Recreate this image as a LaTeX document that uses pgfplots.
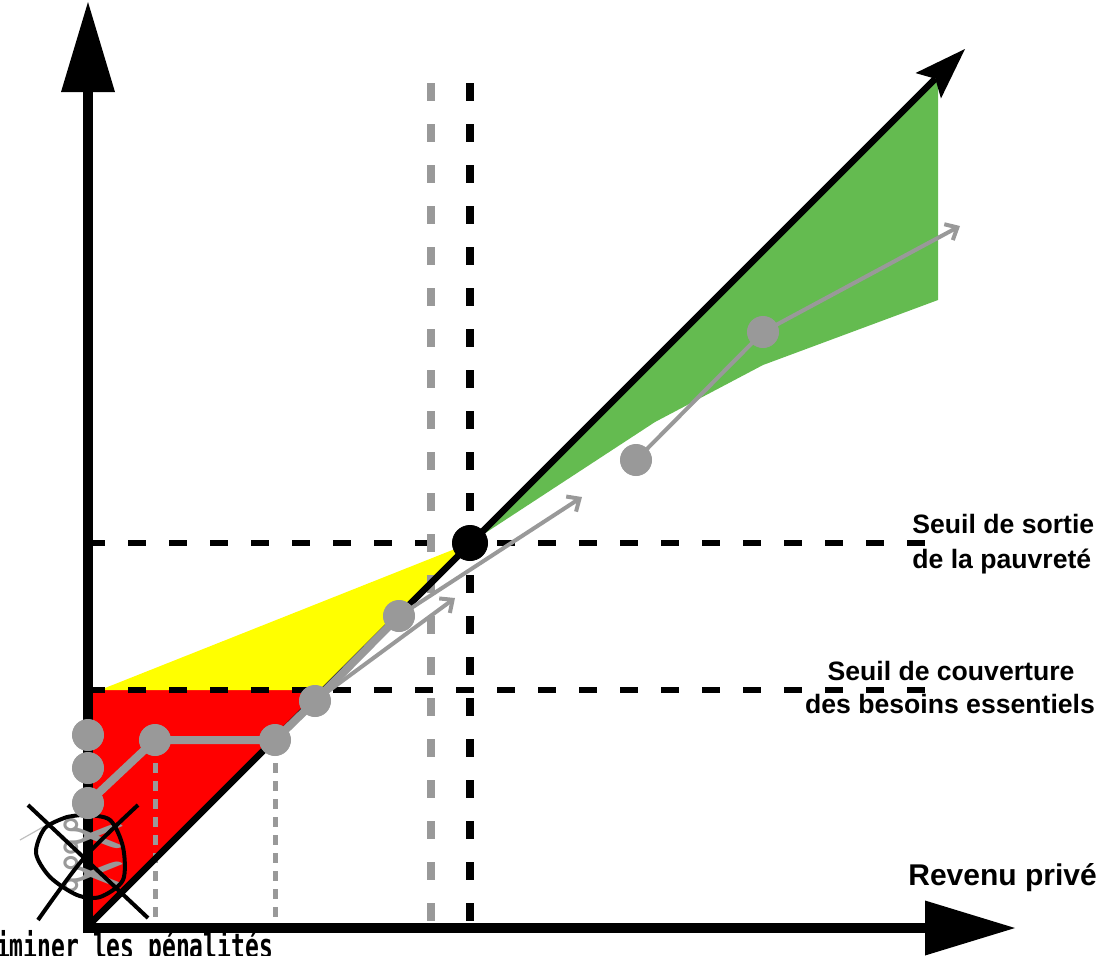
\documentclass[border=0pt]{standalone}
\usepackage{pgfplots}
\pgfplotsset{compat=1.18}
\usepackage{fontspec}
\setmainfont{Liberation Sans}
\newfontfamily\monofont{DejaVu Sans Mono}
\newfontfamily\symfont{DejaVu Sans}
\usetikzlibrary{arrows.meta}
\definecolor{gr}{HTML}{999999}
\definecolor{grn}{HTML}{64BB50}
\definecolor{yel}{HTML}{FFFF00}
\begin{document}
\begin{tikzpicture}
\begin{axis}[
  scale only axis, width=554.5pt, height=477.5pt,
  xmin=0, xmax=1109, ymin=0, ymax=955, y dir=reverse,
  hide axis, clip=true,
]
% coloured regions
\addplot[draw=none, fill=red] coordinates {(88,926)(88,690)(324,690)};
\addplot[draw=none, fill=yel] coordinates {(100,690)(470,543)(324,690)};
\addplot[draw=none, fill=grn] coordinates {(470,543)(938,76)(938,300)(763,365)(655,422)};
% thin grey dashed verticals
\addplot[gr, line width=2.5pt, dash pattern=on 5pt off 4pt] coordinates {(155,745)(155,923)};
\addplot[gr, line width=2.5pt, dash pattern=on 5pt off 4pt] coordinates {(275,745)(275,923)};
% horizontal thresholds
\addplot[black, line width=3pt, dash pattern=on 9pt off 11.5pt] coordinates {(87,690)(925,690)};
\addplot[black, line width=3pt, dash pattern=on 9pt off 11.5pt] coordinates {(87,543)(925,543)};
% vertical dashed
\addplot[gr, line width=4pt, dash pattern=on 9pt off 11.5pt] coordinates {(431,83)(431,923)};
\addplot[black, line width=4pt, dash pattern=on 9pt off 11.5pt] coordinates {(470,83)(470,923)};
% diagonal
\addplot[black, line width=3.25pt, -{Stealth[length=26pt,width=18pt,inset=5pt,line width=0pt]}] coordinates {(88,926)(965,49)};
% axes
\addplot[black, line width=5pt, -{Triangle[length=45pt,width=27pt,line width=0pt]}] coordinates {(88,933)(88,2)};
\addplot[black, line width=5pt, -{Triangle[length=45pt,width=27.5pt,line width=0pt]}] coordinates {(83,928)(1015,928)};
% grey path
\addplot[gr, line width=4pt, line join=round] coordinates {(88,803)(155,740)(275,740)(315,701)(399,616)};
\addplot[gr, line width=2pt, -{Straight Barb[length=5pt,width=9pt]}] coordinates {(399,616)(582,497)};
\addplot[gr, line width=2pt, -{Straight Barb[length=5pt,width=9pt]}] coordinates {(315,701)(455,598)};
\addplot[gr, line width=2pt, -{Straight Barb[length=5pt,width=9pt]}] coordinates {(636,460)(763,332)(960,226)};
% dots
\addplot[gr, only marks, mark=*, mark size=7.8pt] coordinates {(88,735)(88,768)(88,803)(155,740)(275,740)(315,701)(399,616)(636,460)(763,332)};
\addplot[black, only marks, mark=*, mark size=8.8pt] coordinates {(470,543)};
% crossed-out scissors
\node[text=gr, font=\symfont\fontsize{40}{40}\selectfont, inner sep=0] at (axis cs:94,842) {✂};
\node[text=gr, font=\symfont\fontsize{40}{40}\selectfont, inner sep=0] at (axis cs:94,880) {✂};
\addplot[gray!50, line width=0.6pt] coordinates {(20,840)(43,827)};
\addplot[black, line width=2pt] coordinates {(28,805)(148,918)};
\addplot[black, line width=2pt, smooth] coordinates {(38,920)(84,858)(138,805)};
\addplot[black, line width=2pt, smooth] coordinates {(67,817)(45,828)(36,853)(50,877)(77,895)(100,897)(123,880)(123,847)(110,820)(85,815)(67,817)};
% labels
\node[anchor=base west, inner sep=0, font=\bfseries\fontsize{13.3}{16}\selectfont] at (axis cs:912,533) {Seuil de sortie};
\node[anchor=base west, inner sep=0, font=\bfseries\fontsize{13.3}{16}\selectfont] at (axis cs:912,568) {de la pauvreté};
\node[anchor=base, inner sep=0, font=\bfseries\fontsize{13.3}{16}\selectfont] at (axis cs:951,680) {Seuil de couverture};
\node[anchor=base, inner sep=0, font=\bfseries\fontsize{13.3}{16}\selectfont] at (axis cs:950,713) {des besoins essentiels};
\node[anchor=base west, inner sep=0, font=\bfseries\fontsize{15}{18}\selectfont] at (axis cs:908,885) {Revenu privé};
\node[anchor=base west, inner sep=0, yscale=1.5, font=\monofont\bfseries\fontsize{11.5}{14}\selectfont] at (axis cs:-32,958) {Éliminer les pénalités};
\end{axis}
\pgfresetboundingbox
\path[use as bounding box] (current axis.south west) rectangle (current axis.north east);
\end{tikzpicture}
\end{document}
